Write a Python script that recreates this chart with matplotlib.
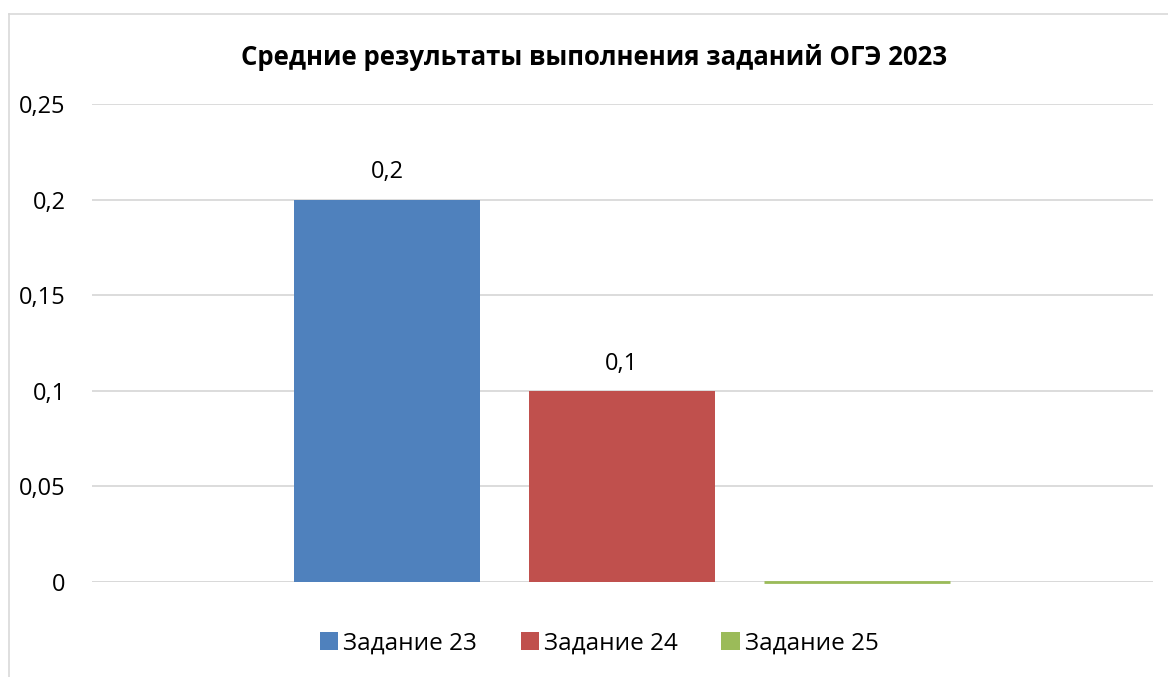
import matplotlib.pyplot as plt
from matplotlib.lines import Line2D
from matplotlib.patches import Patch

plt.rcParams['font.family'] = ['Open Sans', 'DejaVu Sans']

series = ['Задание 23', 'Задание 24', 'Задание 25']
values = [0.2, 0.1, 0.0]
labels = ['0,2', '0,1', None]
colors = ['#4F81BD', '#C0504D', '#9BBB59']
yticks = [0, 0.05, 0.1, 0.15, 0.2, 0.25]
ytick_labels = ['0', '0,05', '0,1', '0,15', '0,2', '0,25']

fig = plt.figure(figsize=(11.68, 6.77), dpi=100)
ax = fig.add_axes([0.0788, 0.1403, 0.9084, 0.7061])

x = list(range(len(series)))
bars = ax.bar(x, values, width=0.79, color=colors, zorder=3)
# third bar is ~0: Excel still shows a thin green line
bars[2].set_edgecolor(colors[2])
bars[2].set_linewidth(2)
bars[2].set_clip_on(False)
bars[2].set_zorder(4)

for b, lab in zip(bars, labels):
    if lab:
        ax.text(b.get_x() + b.get_width() / 2, b.get_height() + 0.008, lab,
                ha='center', va='bottom', fontsize=17)

ax.set_xlim(-1.255, 3.26)
ax.set_ylim(0, 0.25)
ax.set_yticks(yticks)
ax.set_yticklabels(ytick_labels, fontsize=17)
ax.set_xticks([])
ax.tick_params(axis='y', length=0, pad=19)
ax.grid(axis='y', color='#D9D9D9', linewidth=1.3, zorder=0)
for s in ax.spines.values():
    s.set_visible(False)
ax.axhline(0, color='#D9D9D9', linewidth=2, zorder=2)

fig.suptitle('Средние результаты выполнения заданий ОГЭ 2023', x=0.509, y=0.935,
             fontsize=18.5, fontweight='bold')

handles = [Patch(facecolor=c, edgecolor='none') for c in colors]
fig.legend(handles, series, loc='center', bbox_to_anchor=(0.513, 0.05), ncol=3,
           frameon=False, fontsize=17.5, handlelength=0.75, handleheight=0.75,
           handletextpad=0.2, columnspacing=1.8)

# chart frame (left and top edges visible)
fig.add_artist(Line2D([9 / 1168, 9 / 1168], [1 - 14 / 677, 0], color='#D9D9D9', linewidth=1.2))
fig.add_artist(Line2D([9 / 1168, 1], [1 - 14 / 677, 1 - 14 / 677], color='#D9D9D9', linewidth=1.2))

fig.savefig('out.png', dpi=100)
